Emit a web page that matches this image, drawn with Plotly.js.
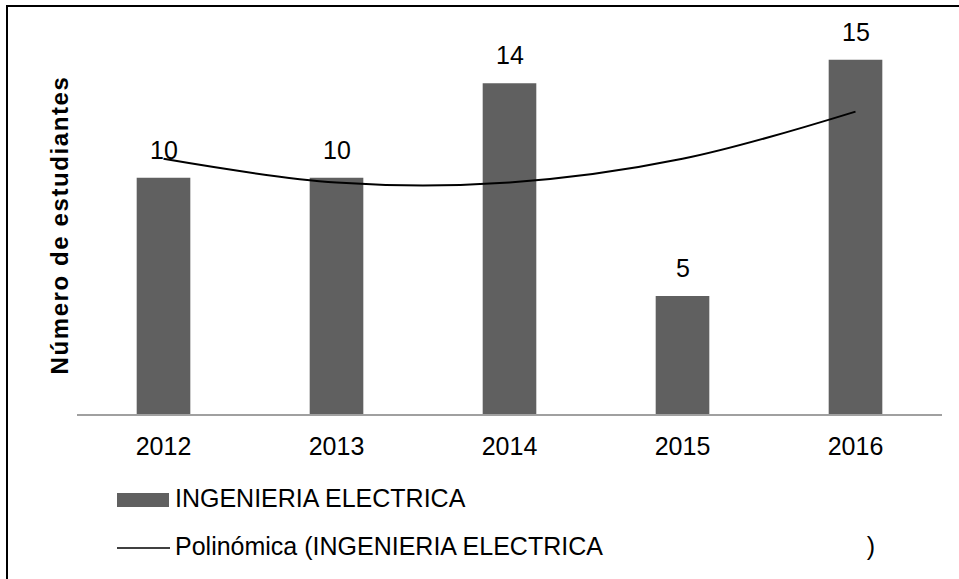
<!DOCTYPE html>
<html><head><meta charset="utf-8">
<script src="https://cdn.plot.ly/plotly-3.0.1.min.js"></script>
<style>html,body{margin:0;padding:0;background:#fff}#chart{width:959px;height:579px}
.ytitle{letter-spacing:1.6px}</style>
</head><body><div id="chart"></div>
<script>
// ---- data ----
const years = ['2012', '2013', '2014', '2015', '2016'];
const students = [10, 10, 14, 5, 15];
const trendValues = [10.8, 9.8, 9.8, 10.8, 12.8];
const seriesName = 'INGENIERIA ELECTRICA';
const trendName = 'Polinómica (INGENIERIA ELECTRICA' + '\u00a0'.repeat(38) + ')';
const yTitle = 'Número de estudiantes';

// ---- layout geometry ----
const W = 959, H = 579, L = 77, R = 17, T = 36, B = 165;
const pw = W - L - R, ph = H - T - B;
const px = x => (x - L) / pw;
const py = y => (H - B - y) / ph;
const FONT = 'Arial, "Liberation Sans", sans-serif';
const BAR = '#606060';

const bars = {
  type: 'bar', x: years, y: students, name: seriesName,
  marker: {color: BAR}, width: 0.31, showlegend: false
};
const trend = {
  type: 'scatter', mode: 'lines', x: years, y: trendValues, name: trendName,
  line: {color: '#000', width: 2, shape: 'spline', smoothing: 1}, showlegend: false
};

// data labels: x given as category index so numeric-looking names are not misread
const labels = years.map((c, i) => ({
  x: i, y: students[i], xref: 'x', yref: 'y', text: String(students[i]),
  showarrow: false, xanchor: 'center', yanchor: 'bottom', yshift: 12,
  font: {family: FONT, size: 25, color: '#000'}
}));

const legendTexts = [
  {x: px(173), y: py(498), xref: 'paper', yref: 'paper', text: seriesName,
   showarrow: false, xanchor: 'left', yanchor: 'middle',
   font: {family: FONT, size: 25, color: '#000'}},
  {x: px(173), y: py(546), xref: 'paper', yref: 'paper', text: trendName,
   showarrow: false, xanchor: 'left', yanchor: 'middle',
   font: {family: FONT, size: 25, color: '#000'}}
];

const shapes = [
  {type: 'rect', xref: 'paper', yref: 'paper', x0: px(7), x1: px(975), y0: py(6), y1: py(600),
   line: {color: '#000', width: 2}, fillcolor: 'rgba(0,0,0,0)', layer: 'below'},
  {type: 'rect', xref: 'paper', yref: 'paper', x0: px(117), x1: px(169), y0: py(507), y1: py(493),
   line: {width: 0}, fillcolor: BAR},
  {type: 'line', xref: 'paper', yref: 'paper', x0: px(117), x1: px(170), y0: py(548), y1: py(548),
   line: {color: '#000', width: 1.5}}
];

const layout = {
  width: W, height: H,
  margin: {l: L, r: R, t: T, b: B, autoexpand: false},
  paper_bgcolor: '#fff', plot_bgcolor: '#fff',
  font: {family: FONT, color: '#000'},
  showlegend: false,
  xaxis: {
    type: 'category', range: [-0.5, 4.5], showgrid: false, zeroline: false,
    showline: true, linecolor: '#a0a0a0', linewidth: 1.5, ticks: '',
    tickfont: {family: FONT, size: 25, color: '#000'}, ticklabelstandoff: 9,
    fixedrange: true
  },
  yaxis: {
    range: [0, 16], showgrid: false, zeroline: false, showline: false,
    showticklabels: false, ticks: '',
    title: {text: yTitle, font: {family: FONT, size: 24, color: '#000', weight: 'bold'}, standoff: 0},
    fixedrange: true
  },
  annotations: labels.concat(legendTexts),
  shapes: shapes
};

Plotly.newPlot('chart', [bars, trend], layout, {displayModeBar: false, staticPlot: true});
</script>
</body></html>
